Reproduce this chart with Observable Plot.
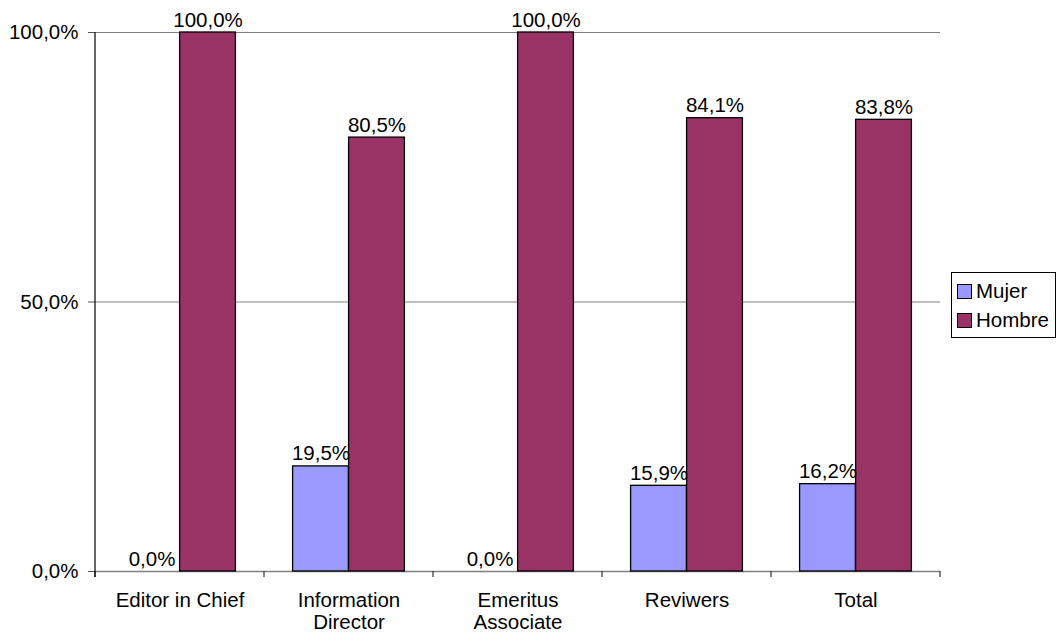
<!DOCTYPE html>
<html>
<head>
<meta charset="utf-8">
<script src="https://cdn.jsdelivr.net/npm/d3@7"></script>
<script src="https://cdn.jsdelivr.net/npm/@observablehq/plot@0.6"></script>
<style>
  body { margin: 0; background: #fff; font-family: "Liberation Sans", Arial, sans-serif; }
  #chart { position: relative; width: 1056px; height: 636px; }
  .legend {
    position: absolute; left: 951px; top: 272px;
    border: 1px solid #000; background: #fff;
    padding: 3px 6px 3px 5px; font-size: 20.5px; line-height: 29px; color: #000;
  }
  .legend .sw {
    display: inline-block; width: 13px; height: 13px; border: 1px solid #000;
    margin-right: 4px; vertical-align: -1px;
  }
</style>
</head>
<body>
<div id="chart"></div>
<script>
// Share of women and men in each editorial role (percent)
const categories = ["Editor in Chief", "Information Director", "Emeritus Associate", "Reviwers", "Total"];
const tickLabels = ["Editor in Chief", "Information\nDirector", "Emeritus\nAssociate", "Reviwers", "Total"];
const seriesNames = ["Mujer", "Hombre"];
const mujer = [0, 19.5, 0, 15.9, 16.2];
const hombre = [100, 80.5, 100, 84.1, 83.8];
const seriesColors = ["#9999FF", "#993366"];
const yTicks = [0, 50, 100];
const gridValues = [50, 100];

const mujerRows = categories.map((c, i) => ({category: c, sex: seriesNames[0], value: mujer[i]}));
const hombreRows = categories.map((c, i) => ({category: c, sex: seriesNames[1], value: hombre[i]}));

const width = 1056, height = 636;
const marginLeft = 94, marginRight = 116, marginTop = 32, marginBottom = 65;
const step = (width - marginLeft - marginRight) / categories.length;
const barWidth = step * 0.331;
const gap = (step - 2 * barWidth) / 2;

const pct = v => v.toFixed(1).replace(".", ",") + "%";
const labelOf = c => tickLabels[categories.indexOf(c)];

// y axis line plus the tick marks that separate the category slots
const frameTicks = (index, scales) => {
  const {x, y} = scales;
  const bw = typeof x.bandwidth === "function" ? x.bandwidth() : x.bandwidth;
  const edges = [x(categories[0]), ...categories.map(c => x(c) + bw)];
  const g = d3.create("svg:g").attr("stroke", "#000").attr("stroke-width", 1.2);
  g.selectAll("line.edge").data(edges).join("line")
    .attr("x1", d => d).attr("x2", d => d)
    .attr("y1", y(0)).attr("y2", y(0) + 6)
    .attr("stroke", "#333");
  g.append("line")
    .attr("x1", edges[0]).attr("x2", edges[0])
    .attr("y1", y(100)).attr("y2", y(0) + 6);
  return g.node();
};

const chart = Plot.plot({
  width, height, marginLeft, marginRight, marginTop, marginBottom,
  style: {fontFamily: "'Liberation Sans', Arial, sans-serif", fontSize: "20.5px", color: "#000", background: "#fff"},
  x: {domain: categories, padding: 0},
  y: {domain: [0, 100]},
  marks: [
    Plot.ruleY(gridValues, {stroke: "#808080", strokeWidth: 1.2}),
    Plot.ruleY([0], {stroke: "#808080", strokeWidth: 1.5}),
    Plot.barY(mujerRows, {
      x: "category", y: "value", fill: seriesColors[0], stroke: "#000", strokeWidth: 1.3,
      insetLeft: gap, insetRight: gap + barWidth
    }),
    Plot.barY(hombreRows, {
      x: "category", y: "value", fill: seriesColors[1], stroke: "#000", strokeWidth: 1.3,
      insetLeft: gap + barWidth, insetRight: gap
    }),
    Plot.text(mujerRows, {
      x: "category", y: "value", text: d => pct(d.value),
      dx: -barWidth / 2, dy: -6, lineAnchor: "bottom", fill: "#000"
    }),
    Plot.text(hombreRows, {
      x: "category", y: "value", text: d => pct(d.value),
      dx: barWidth / 2, dy: -6, lineAnchor: "bottom", fill: "#000"
    }),
    Plot.axisY({ticks: yTicks, tickFormat: pct, tickSize: 6, tickPadding: 10, label: null, stroke: "#555"}),
    Plot.axisX({tickSize: 0, tickPadding: 19, tickFormat: labelOf, label: null, lineHeight: 1.1}),
    frameTicks
  ]
});

const container = document.getElementById("chart");
container.appendChild(chart);

const legend = document.createElement("div");
legend.className = "legend";
seriesNames.forEach((name, i) => {
  const row = document.createElement("div");
  const sw = document.createElement("span");
  sw.className = "sw";
  sw.style.background = seriesColors[i];
  row.appendChild(sw);
  row.appendChild(document.createTextNode(name));
  legend.appendChild(row);
});
container.appendChild(legend);
</script>
</body>
</html>
